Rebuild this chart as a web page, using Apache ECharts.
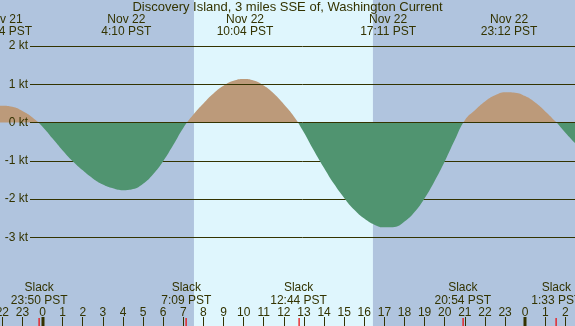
<!doctype html>
<html lang="en">
<head>
	<meta charset="UTF-8">
	<title>Discovery Island Current</title>
	<style>
		html, body { margin: 0; padding: 0; background: #b0c4de; }
		#main { width: 575px; height: 326px; }
	</style>
</head>
<body>
<div id="main"></div>
<script src="https://cdn.jsdelivr.net/npm/echarts@6/dist/echarts.min.js"></script>
<script type="text/javascript">
	// hours counted from Nov 22 00:00 PST, one reading every half hour; speed in knots (flood +, ebb -)
	var curveHours = [-3, -2.5, -2, -1.5, -1, -0.5, 0, 0.5, 1, 1.5, 2, 2.5, 3, 3.5, 4, 4.5, 5, 5.5, 6, 6.5,
		7, 7.5, 8, 8.5, 9, 9.5, 10, 10.5, 11, 11.5, 12, 12.5, 13, 13.5, 14, 14.5, 15, 15.5, 16, 16.5,
		17, 17.5, 18, 18.5, 19, 19.5, 20, 20.5, 21, 21.5, 22, 22.5, 23, 23.5, 24, 24.5, 25, 25.5, 26, 26.5, 27];
	var curveKnots = [0.38, 0.42, 0.44, 0.41, 0.30, 0.13, -0.11, -0.42, -0.73, -1.01, -1.25, -1.46, -1.62, -1.72, -1.77, -1.74, -1.60, -1.35, -1.01, -0.59,
		-0.14, 0.21, 0.50, 0.76, 0.96, 1.09, 1.14, 1.10, 0.97, 0.76, 0.48, 0.16, -0.26, -0.74, -1.19, -1.61, -1.97, -2.28, -2.51, -2.67,
		-2.74, -2.73, -2.59, -2.34, -1.98, -1.53, -1.02, -0.46, 0.06, 0.32, 0.55, 0.71, 0.79, 0.78, 0.69, 0.52, 0.29, 0.03, -0.27, -0.55, -0.80];

	var peakHours = [-1.933, 4.167, 10.067, 17.183, 23.2];
	var peakDates = ['Nov 21', 'Nov 22', 'Nov 22', 'Nov 22', 'Nov 22'];
	var peakTimes = ['22:04 PST', '4:10 PST', '10:04 PST', '17:11 PST', '23:12 PST'];

	var slackHours = [-0.167, 7.15, 12.733, 20.9, 25.55];
	var slackTimes = ['23:50 PST', '7:09 PST', '12:44 PST', '20:54 PST', '1:33 PST'];

	var daylight = [[7.53, 16.43]];   // sunrise, sunset
	var midnights = [0, 24];
	var ktLevels = [-3, 2];           // y axis range in kt

	var ink = '#333300';
	var night = '#b0c4de', day = '#dff6fd';
	var floodColor = '#bc9a7a', ebbColor = '#509470';
	var font = 'Liberation Sans';

	var myChart = echarts.init(document.getElementById('main'));

	var xMin = -3, xMax = 27;
	var gridX = { left: -17.8, right: -10.5 };
	var plotTop = 46, plotBottom = 88.7;

	function textEl(str, x, y) {
		return {
			type: 'text',
			style: { text: str, x: x, y: y, align: 'center', verticalAlign: 'middle', fill: ink, fontSize: 12, fontFamily: font }
		};
	}

	var option = {
		backgroundColor: night,
		animation: false,
		title: {
			text: 'Discovery Island, 3 miles SSE of, Washington Current',
			left: 'center', top: 1, padding: 0,
			textStyle: { color: ink, fontSize: 13, fontWeight: 'normal', fontFamily: font }
		},
		grid: [
			{ left: gridX.left, right: gridX.right, top: plotTop, bottom: plotBottom, outerBoundsMode: 'none', containLabel: false },
			{ left: 30, right: 0, top: plotTop, bottom: plotBottom, outerBoundsMode: 'none', containLabel: false },
			{ left: gridX.left, right: gridX.right, top: 0, bottom: 0, outerBoundsMode: 'none', containLabel: false }
		],
		xAxis: [
			{ gridIndex: 0, type: 'value', min: xMin, max: xMax, show: false },
			{ gridIndex: 1, type: 'value', min: 0, max: 1, show: false },
			{
				gridIndex: 2, type: 'value', min: xMin, max: xMax, interval: 1, position: 'bottom',
				axisLine: { show: false },
				splitLine: { show: false },
				axisTick: { inside: true, length: 9, lineStyle: { color: ink, width: 1 } },
				axisLabel: {
					inside: true, margin: 7, color: ink, fontSize: 12, fontFamily: font,
					formatter: function (v) { return String(((v % 24) + 24) % 24); }
				}
			}
		],
		yAxis: [
			{ gridIndex: 0, type: 'value', min: ktLevels[0], max: ktLevels[1], show: false },
			{
				gridIndex: 1, type: 'value', min: ktLevels[0], max: ktLevels[1], interval: 1,
				axisLine: { show: false }, axisTick: { show: false },
				axisLabel: { margin: 2, color: ink, fontSize: 12, fontFamily: font, formatter: '{value} kt' },
				splitLine: { lineStyle: { color: ink, width: 1 } }
			},
			{ gridIndex: 2, type: 'value', min: 0, max: 1, show: false }
		],
		visualMap: [
			{ show: false, type: 'piecewise', seriesIndex: 0, dimension: 1,
				pieces: [{ gte: -10, lt: 0, color: 'rgba(0,0,0,0)' }, { gte: 0, lte: 10, color: floodColor }] },
			{ show: false, type: 'piecewise', seriesIndex: 1, dimension: 1,
				pieces: [{ gte: -10, lte: 0, color: ebbColor }, { gt: 0, lte: 10, color: 'rgba(0,0,0,0)' }] }
		],
		series: [
			{
				name: 'flood', type: 'line', xAxisIndex: 0, yAxisIndex: 0, z: -1,
				data: curveHours.map(function (h, i) { return [h, curveKnots[i]]; }),
				smooth: true, showSymbol: false, silent: true,
				lineStyle: { width: 0, opacity: 0 },
				areaStyle: { opacity: 1 }
			},
			{
				name: 'ebb', type: 'line', xAxisIndex: 0, yAxisIndex: 0, z: 2,
				data: curveHours.map(function (h, i) { return [h, curveKnots[i]]; }),
				smooth: true, showSymbol: false, silent: true,
				lineStyle: { width: 0, opacity: 0 },
				areaStyle: { opacity: 1 }
			},
			{
				// daylight band
				type: 'custom', coordinateSystem: 'cartesian2d', xAxisIndex: 2, yAxisIndex: 2, z: -5, silent: true,
				data: daylight,
				renderItem: function (params, api) {
					var x0 = api.coord([api.value(0), 0])[0];
					var x1 = api.coord([api.value(1), 0])[0];
					return { type: 'rect', shape: { x: x0, y: 0, width: x1 - x0, height: 326 }, style: { fill: day } };
				}
			},
			{
				// thick midnight ticks
				type: 'custom', coordinateSystem: 'cartesian2d', xAxisIndex: 2, yAxisIndex: 2, z: 5, silent: true,
				data: midnights.map(function (h) { return [h, 0]; }),
				renderItem: function (params, api) {
					var x = Math.round(api.coord([api.value(0), 0])[0]);
					return { type: 'rect', shape: { x: x - 1.5, y: 317, width: 3, height: 9 }, style: { fill: ink } };
				}
			},
			{
				// slack labels and red ticks
				type: 'custom', coordinateSystem: 'cartesian2d', xAxisIndex: 2, yAxisIndex: 2, z: 6, silent: true,
				data: slackHours.map(function (h, i) { return [h, i]; }),
				renderItem: function (params, api) {
					var x = api.coord([api.value(0), 0])[0];
					var i = api.value(1);
					return {
						type: 'group',
						children: [
							{ type: 'rect', shape: { x: Math.round(x) - 0.5, y: 318, width: 1.2, height: 8 }, style: { fill: '#ee0000' } },
							textEl('Slack', x, 287.5),
							textEl(slackTimes[i], x, 300.5)
						]
					};
				}
			},
			{
				// max flood / ebb labels on top
				type: 'custom', coordinateSystem: 'cartesian2d', xAxisIndex: 2, yAxisIndex: 2, z: 6, silent: true,
				data: peakHours.map(function (h, i) { return [h, i]; }),
				renderItem: function (params, api) {
					var x = api.coord([api.value(0), 0])[0];
					var i = api.value(1);
					return {
						type: 'group',
						children: [
							textEl(peakDates[i], x, 19.5),
							textEl(peakTimes[i], x, 31.5)
						]
					};
				}
			}
		]
	};

	myChart.setOption(option);
</script>
</body>
</html>
